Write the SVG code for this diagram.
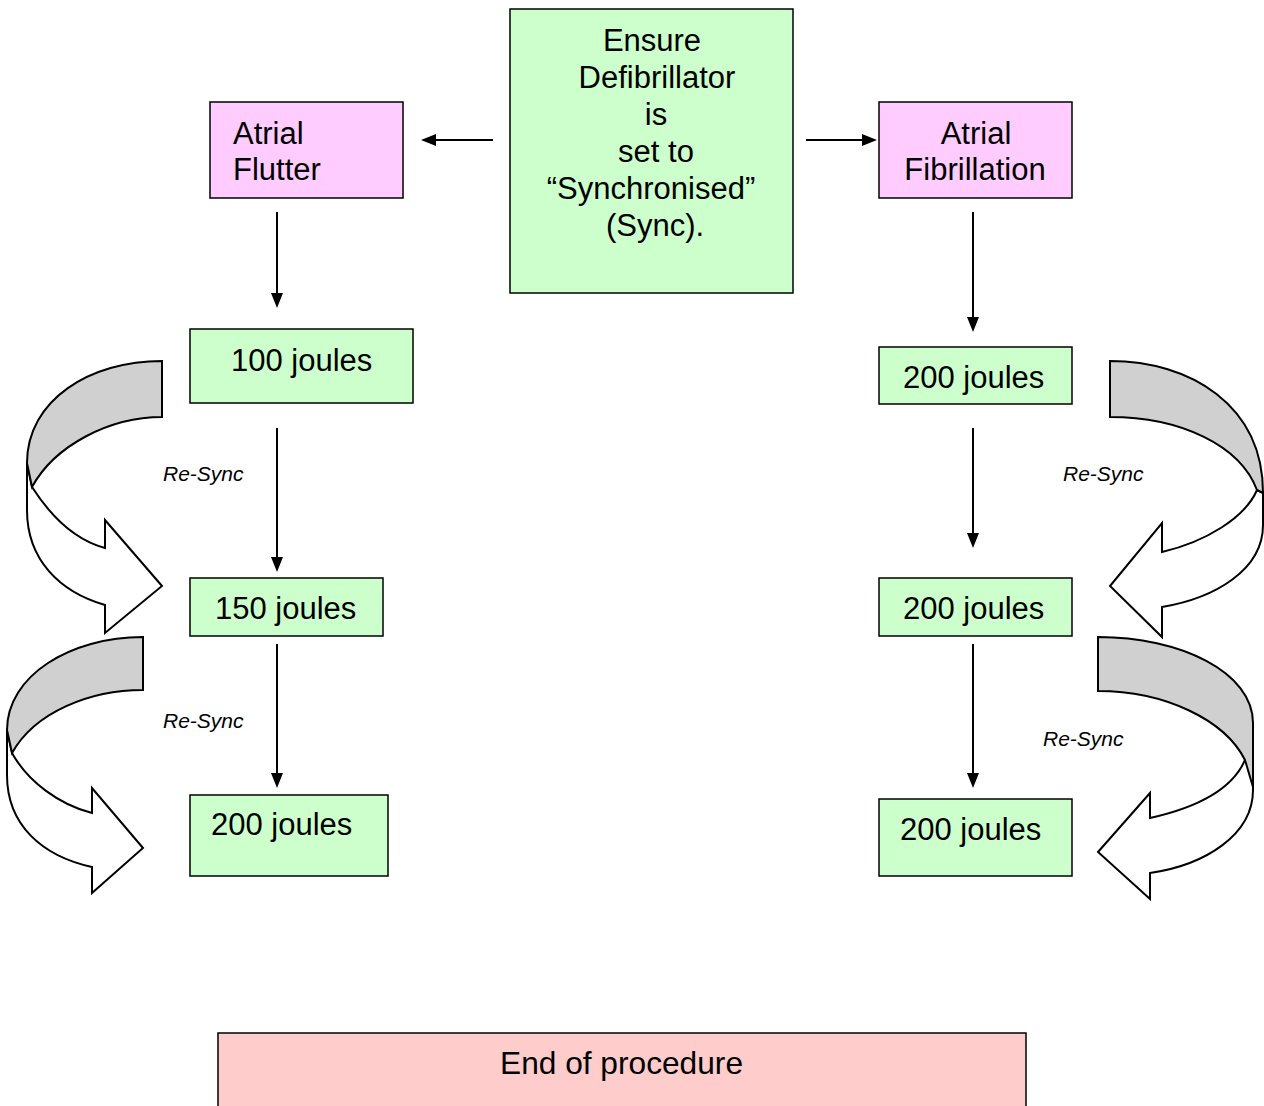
<svg xmlns="http://www.w3.org/2000/svg" width="1264" height="1106" viewBox="0 0 1264 1106">
<defs>
<style>
.box{stroke:#000;stroke-width:1.5}
.green{fill:#ccffcc}
.pink{fill:#ffccff}
.red{fill:#ffcccc}
text{font-family:"Liberation Sans",Arial,sans-serif;fill:#000}
.t{font-size:31px}
.c{text-anchor:middle}
.rs{font-size:21px;font-style:italic}
.cn{stroke:#000;stroke-width:2;fill:none}
.band{fill:#fff;stroke:#000;stroke-width:2;stroke-linejoin:miter}
.back{fill:#d0d0d0;stroke:#000;stroke-width:2}
</style>
</defs>
<rect width="1264" height="1106" fill="#fff"/>

<g id="connectors">
<line class="cn" x1="493" y1="140" x2="434" y2="140"/>
<path d="M436,134 L421,140 L436,146 Z" fill="#000"/>
<line class="cn" x1="806" y1="140" x2="864" y2="140"/>
<path d="M862,134 L877,140 L862,146 Z" fill="#000"/>
<line class="cn" x1="277" y1="212" x2="277" y2="295"/>
<path d="M271,293 L277,308 L283,293 Z" fill="#000"/>
<line class="cn" x1="277" y1="428" x2="277" y2="559"/>
<path d="M271,557 L277,572 L283,557 Z" fill="#000"/>
<line class="cn" x1="277" y1="644" x2="277" y2="775"/>
<path d="M271,773 L277,788 L283,773 Z" fill="#000"/>
<line class="cn" x1="973" y1="212" x2="973" y2="319"/>
<path d="M967,317 L973,332 L979,317 Z" fill="#000"/>
<line class="cn" x1="973" y1="428" x2="973" y2="535"/>
<path d="M967,533 L973,548 L979,533 Z" fill="#000"/>
<line class="cn" x1="973" y1="644" x2="973" y2="775"/>
<path d="M967,773 L973,788 L979,773 Z" fill="#000"/>

<g id="resync-left-1">
<path class="band" d="M27,463 L27,510 C27,560 60,592 105,605 L105,633 L162,586 L105,520 L105,548 C75,540 50,515 32,487 Z"/>
<path class="back" d="M162,361 C90,361 27,400 27,463 L32,487 C55,445 110,417 162,417 Z"/>
</g>
<g id="resync-left-2">
<path class="band" d="M7,730 L7,775 C7,825 42,856 92,867 L92,893 L143,848 L92,788 L92,813 C60,805 28,782 12,753 Z"/>
<path class="back" d="M143,637 C70,637 7,676 7,730 L12,753 C35,712 90,690 143,690 Z"/>
</g>
<g id="resync-right-1">
<path class="band" d="M1263,493 L1263,525 C1263,570 1215,598 1162,607 L1162,637 L1110,586 L1162,523 L1162,552 C1205,542 1245,518 1257,490 Z"/>
<path class="back" d="M1110,361 C1190,361 1263,405 1263,493 L1257,490 C1240,445 1180,417 1110,417 Z"/>
</g>
<g id="resync-right-2">
<path class="band" d="M1253,723 L1253,790 C1253,835 1205,865 1150,873 L1150,899 L1098,852 L1150,793 L1150,818 C1195,808 1232,790 1245,760 Z"/>
<path class="back" d="M1098,637 C1180,637 1253,672 1253,723 L1253,787 L1245,760 C1225,720 1165,691 1098,691 Z"/>
</g>
</g>

<g id="node-ensure">
<rect class="box green" x="510" y="9" width="283" height="284"/>
<text class="t c"><tspan x="652" y="51">Ensure</tspan><tspan x="657" y="88">Defibrillator</tspan><tspan x="656" y="125">is</tspan><tspan x="656" y="162">set to</tspan><tspan x="651" y="199">“Synchronised”</tspan><tspan x="655" y="236">(Sync).</tspan></text>
</g>
<g id="node-flutter">
<rect class="box pink" x="210" y="102" width="193" height="96"/>
<text class="t"><tspan x="233" y="144">Atrial</tspan><tspan x="233" y="180">Flutter</tspan></text>
</g>
<g id="node-fibrillation">
<rect class="box pink" x="879" y="102" width="193" height="96"/>
<text class="t c"><tspan x="976" y="144">Atrial</tspan><tspan x="975" y="180">Fibrillation</tspan></text>
</g>
<g id="node-l100">
<rect class="box green" x="190" y="329" width="223" height="74"/>
<text class="t" x="231" y="371">100 joules</text>
</g>
<g id="node-l150">
<rect class="box green" x="190" y="578" width="193" height="58"/>
<text class="t" x="215" y="619">150 joules</text>
</g>
<g id="node-l200">
<rect class="box green" x="190" y="795" width="198" height="81"/>
<text class="t" x="211" y="835">200 joules</text>
</g>
<g id="node-r200a">
<rect class="box green" x="879" y="347" width="193" height="57"/>
<text class="t" x="903" y="388">200 joules</text>
</g>
<g id="node-r200b">
<rect class="box green" x="879" y="578" width="193" height="58"/>
<text class="t" x="903" y="619">200 joules</text>
</g>
<g id="node-r200c">
<rect class="box green" x="879" y="799" width="193" height="77"/>
<text class="t" x="900" y="840">200 joules</text>
</g>
<g id="labels">
<text class="rs" x="163" y="481">Re-Sync</text>
<text class="rs" x="163" y="728">Re-Sync</text>
<text class="rs" x="1063" y="481">Re-Sync</text>
<text class="rs" x="1043" y="746">Re-Sync</text>
</g>
<g id="node-end">
<rect class="box red" x="218" y="1033" width="808" height="90"/>
<text x="500" y="1074" font-size="32" textLength="243" lengthAdjust="spacingAndGlyphs">End of procedure</text>
</g>
</svg>
